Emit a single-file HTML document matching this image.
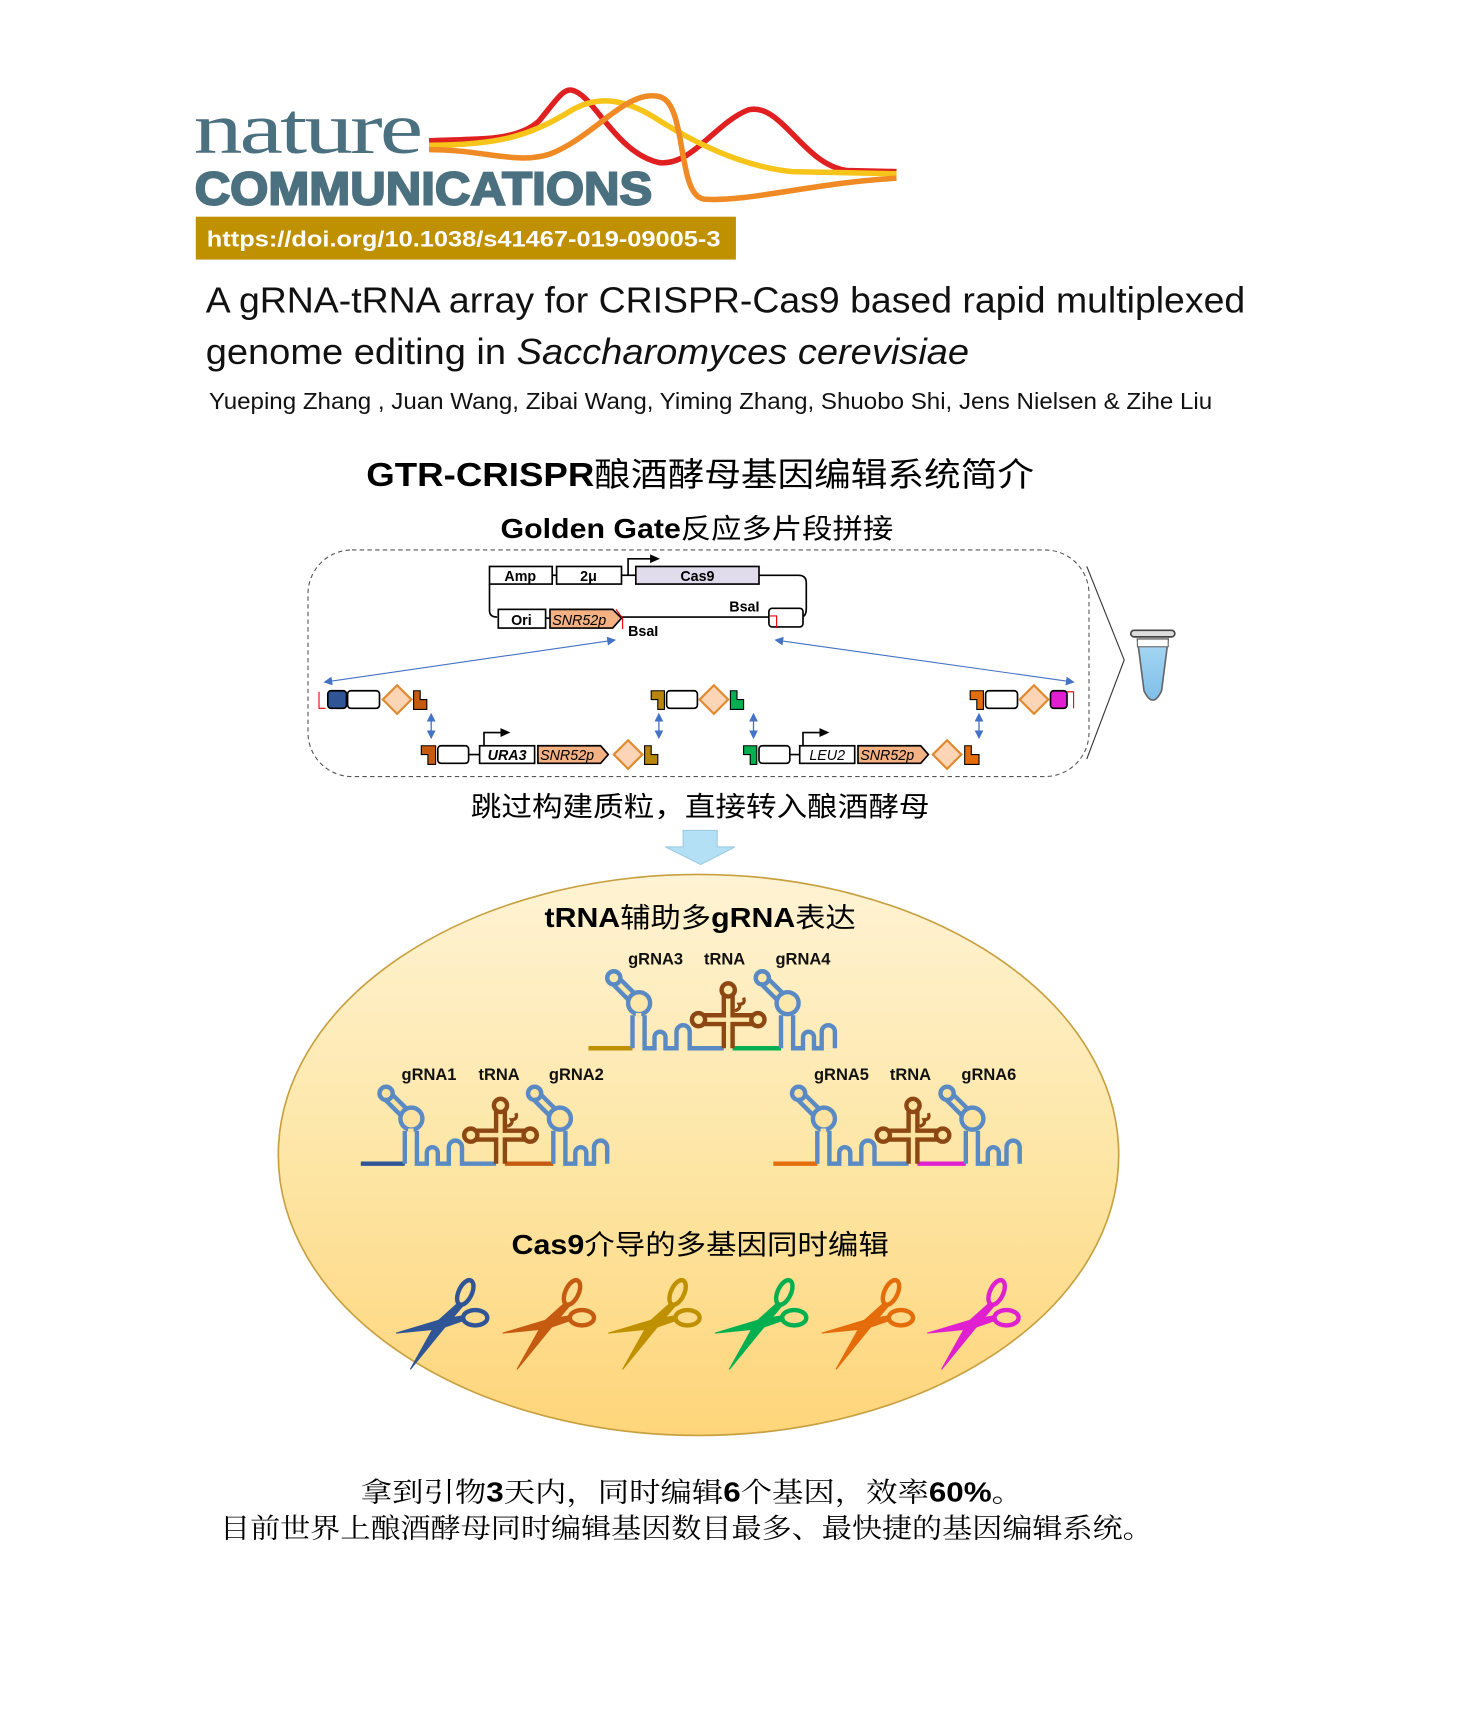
<!DOCTYPE html>
<html><head><meta charset="utf-8"><style>
html,body{margin:0;padding:0;background:#fff;}
svg{display:block;}
.cn{font-family:"Liberation Sans","Noto Sans CJK SC",sans-serif;}
</style></head><body>
<svg width="1463" height="1728" viewBox="0 0 1330 1571" preserveAspectRatio="none" xmlns="http://www.w3.org/2000/svg">
<defs>
<linearGradient id="eg" x1="0" y1="0" x2="0" y2="1">
<stop offset="0" stop-color="#fff3d4"/><stop offset="0.5" stop-color="#fde6a6"/><stop offset="1" stop-color="#fed57a"/>
</linearGradient>
<linearGradient id="tb" x1="0" y1="0" x2="0" y2="1">
<stop offset="0" stop-color="#a8d8f4"/><stop offset="1" stop-color="#7fbfe8"/>
</linearGradient>
<marker id="ah" markerWidth="8" markerHeight="8" refX="6" refY="4" orient="auto" markerUnits="userSpaceOnUse"><path d="M0,0 L8,4 L0,8 z" fill="#4472c4"/></marker>
<marker id="ahs" markerWidth="8" markerHeight="8" refX="6" refY="4" orient="auto-start-reverse" markerUnits="userSpaceOnUse"><path d="M0,0 L8,4 L0,8 z" fill="#4472c4"/></marker>
<marker id="pk" markerWidth="10" markerHeight="10" refX="7" refY="5" orient="auto" markerUnits="userSpaceOnUse"><path d="M0,1 L9,5 L0,9 z" fill="#000"/></marker>

<g id="rna">
 <path d="M40,0 V-30 M51,-30 V0 H60 V-10 A5,5 0 1 1 70,-10 V0 H80 V-15 A6,6 0 1 1 92,-15 V0 H123" fill="none" stroke="#5a8ac4" stroke-width="4"/>
 <line x1="38" y1="-48" x2="26" y2="-60" stroke="#5a8ac4" stroke-width="12" stroke-linecap="round"/>
 <line x1="38" y1="-48" x2="26" y2="-60" stroke="var(--bg)" stroke-width="4"/>
 <circle cx="46" cy="-41" r="10" fill="var(--bg)" stroke="#5a8ac4" stroke-width="4"/>
 <circle cx="23" cy="-64" r="6" fill="var(--bg)" stroke="#5a8ac4" stroke-width="4"/>
 <rect x="43" y="-32" width="5" height="4" fill="var(--bg)"/>
 <path d="M175,0 V-30 M186,-30 V0 H195 V-10 A5,5 0 1 1 205,-10 V0 H212 V-15 A6,6 0 1 1 224,-15 V0" fill="none" stroke="#5a8ac4" stroke-width="4"/>
 <line x1="173" y1="-48" x2="161" y2="-60" stroke="#5a8ac4" stroke-width="12" stroke-linecap="round"/>
 <line x1="173" y1="-48" x2="161" y2="-60" stroke="var(--bg)" stroke-width="4"/>
 <circle cx="181" cy="-41" r="10" fill="var(--bg)" stroke="#5a8ac4" stroke-width="4"/>
 <circle cx="158" cy="-64" r="6" fill="var(--bg)" stroke="#5a8ac4" stroke-width="4"/>
 <path d="M127,0 V-26 M127,-26 H104 M127,-26 H150 M127,-26 V-48" fill="none" stroke="#8c4712" stroke-width="12"/>
 <path d="M127,2 V-26 M127,-26 H106 M127,-26 H148 M127,-26 V-46" fill="none" stroke="var(--bg)" stroke-width="4"/>
 <circle cx="100" cy="-26" r="6" fill="var(--bg)" stroke="#8c4712" stroke-width="4"/>
 <circle cx="154" cy="-26" r="6" fill="var(--bg)" stroke="#8c4712" stroke-width="4"/>
 <circle cx="127" cy="-53" r="6" fill="var(--bg)" stroke="#8c4712" stroke-width="4"/>
 <path d="M133,-34 q6,-2 4,-6 q6,0 4,-6" fill="none" stroke="#8c4712" stroke-width="3"/>
</g>

<g id="sc">
 <path d="M-40,8 L0,-4 L22,-8 L23,-4 L0,4 Z"/>
 <path d="M-27,41 L-3,-2 L17,-20 L21,-17 L4,3 Z"/>
 <ellipse cx="32" cy="-6" rx="11" ry="7" fill="none" stroke-width="4"/>
 <ellipse cx="23" cy="-29" rx="6" ry="12" transform="rotate(25 23 -29)" fill="none" stroke-width="4"/>
</g>
</defs>

<text x="176" y="139" font-family="Liberation Serif,serif" font-size="66" fill="#4b7080" textLength="206" lengthAdjust="spacingAndGlyphs" letter-spacing="-2">nature</text>
<text x="177" y="186" font-family="Liberation Sans,sans-serif" font-weight="bold" font-size="42" fill="#4b7080" stroke="#4b7080" stroke-width="1.8" textLength="416" lengthAdjust="spacingAndGlyphs">COMMUNICATIONS</text>
<path d="M390,128 C440,126 470,128 490,110 C505,92 512,80 520,82 C540,86 560,140 600,148 C630,150 650,112 680,100 C710,92 730,150 770,155 L815,156" fill="none" stroke="#e02020" stroke-width="5"/>
<path d="M390,132 C450,132 480,125 520,100 C545,86 570,90 600,110 C640,135 680,152 720,156 L815,158" fill="none" stroke="#f7c419" stroke-width="5"/>
<path d="M390,136 C440,136 470,150 500,140 C540,125 570,80 600,88 C625,95 615,178 640,181 C680,184 740,166 815,162" fill="none" stroke="#f08a24" stroke-width="5"/>

<rect x="178" y="197" width="491" height="39" fill="#bf9000"/>
<text x="188" y="224" font-family="Liberation Sans,sans-serif" font-weight="bold" font-size="20" fill="#fff" textLength="467" lengthAdjust="spacingAndGlyphs">https://doi.org/10.1038/s41467-019-09005-3</text>

<text x="187" y="284" font-family="Liberation Sans,sans-serif" font-size="33" fill="#111" textLength="945" lengthAdjust="spacingAndGlyphs">A gRNA-tRNA array for CRISPR-Cas9 based rapid multiplexed</text>
<text x="187" y="331" font-family="Liberation Sans,sans-serif" font-size="33" fill="#111" textLength="694" lengthAdjust="spacingAndGlyphs">genome editing in <tspan font-style="italic">Saccharomyces cerevisiae</tspan></text>
<text x="190" y="372" font-family="Liberation Sans,sans-serif" font-size="21" fill="#111" textLength="912" lengthAdjust="spacingAndGlyphs">Yueping Zhang , Juan Wang, Zibai Wang, Yiming Zhang, Shuobo Shi, Jens Nielsen &amp; Zihe Liu</text>

<text class="cn" x="333" y="442" font-size="30" font-weight="bold" fill="#000" textLength="607" lengthAdjust="spacingAndGlyphs">GTR-CRISPR<tspan font-weight="normal">酿酒酵母基因编辑系统简介</tspan></text>
<text class="cn" x="455" y="489" font-size="25" font-weight="bold" fill="#000" textLength="357" lengthAdjust="spacingAndGlyphs">Golden Gate<tspan font-weight="normal">反应多片段拼接</tspan></text>

<rect x="280" y="500" width="710" height="206" rx="40" fill="none" stroke="#555" stroke-width="1" stroke-dasharray="4,3"/>
<path d="M988,515 L1022,600 L988,690" fill="none" stroke="#333" stroke-width="1"/>

<path d="M1034,581 L1062,581 L1056,628 Q1048,645 1040,628 Z" fill="url(#tb)" stroke="#666" stroke-width="1.5"/>
<rect x="1034" y="581" width="28" height="7" fill="#fff" stroke="#666" stroke-width="1"/>
<rect x="1028" y="573" width="40" height="6" rx="3" fill="#ddd" stroke="#444" stroke-width="1.5"/>

<g font-family="Liberation Sans,sans-serif" font-size="13" font-weight="bold" fill="#000">
<path d="M690,523 H726 Q733,523 733,530 V553 Q733,561 728,561" fill="none" stroke="#000" stroke-width="1.5"/>
<path d="M445,531 V555 Q445,561 452,561" fill="none" stroke="#000" stroke-width="1.5"/>
<line x1="563" y1="561" x2="699" y2="561" stroke="#000" stroke-width="1.5"/>
<line x1="502" y1="523" x2="506" y2="523" stroke="#000" stroke-width="1.5"/>
<line x1="565" y1="523" x2="578" y2="523" stroke="#000" stroke-width="1.5"/>
<line x1="496" y1="562" x2="500" y2="562" stroke="#000" stroke-width="1.5"/>
<rect x="445" y="515" width="57" height="16" fill="#fff" stroke="#000" stroke-width="1.5"/>
<text x="473" y="528" text-anchor="middle">Amp</text>
<rect x="506" y="515" width="59" height="16" fill="#fff" stroke="#000" stroke-width="1.5"/>
<text x="535" y="528" text-anchor="middle" font-weight="bold">2μ</text>
<rect x="578" y="515" width="112" height="16" fill="#e0dcec" stroke="#000" stroke-width="1.5"/>
<text x="634" y="528" text-anchor="middle">Cas9</text>
<path d="M571,523 V508 H598" fill="none" stroke="#000" stroke-width="1.5" marker-end="url(#pk)"/>
<rect x="453" y="554" width="43" height="17" fill="#fff" stroke="#000" stroke-width="1.5"/>
<text x="474" y="568" text-anchor="middle">Ori</text>
<path d="M500,554 H557 L565,562 L557,571 H500 Z" fill="#f4b183" stroke="#000" stroke-width="1.5"/>
<text x="502" y="568" font-style="italic" font-weight="normal" font-size="13">SNR52p</text>
<path d="M560,554 L566,562 L566,572" fill="none" stroke="#e00" stroke-width="1"/>
<rect x="699" y="553" width="31" height="17" rx="3" fill="#fff" stroke="#000" stroke-width="1.5"/>
<path d="M700,560 H706 V571" fill="none" stroke="#e00" stroke-width="1"/>
<text x="663" y="556">BsaI</text>
<text x="571" y="578">BsaI</text>
</g>

<line x1="558" y1="582" x2="296" y2="620" stroke="#4472c4" stroke-width="1" marker-start="url(#ahs)" marker-end="url(#ah)"/>
<line x1="706" y1="582" x2="975" y2="620" stroke="#4472c4" stroke-width="1" marker-start="url(#ahs)" marker-end="url(#ah)"/>
<g stroke="#4472c4" stroke-width="1.2">
<line x1="392" y1="650" x2="392" y2="670" marker-start="url(#ahs)" marker-end="url(#ah)"/>
<line x1="599" y1="650" x2="599" y2="670" marker-start="url(#ahs)" marker-end="url(#ah)"/>
<line x1="685" y1="650" x2="685" y2="670" marker-start="url(#ahs)" marker-end="url(#ah)"/>
<line x1="890" y1="650" x2="890" y2="670" marker-start="url(#ahs)" marker-end="url(#ah)"/>
</g>

<g stroke-width="1.5">
<path d="M290,629 V644 H296" fill="none" stroke="#e00" stroke-width="1"/>
<rect x="298" y="628" width="17" height="16" rx="3" fill="#2f5597" stroke="#000"/>
<rect x="316" y="628" width="29" height="16" rx="3" fill="#fff" stroke="#000"/>
<path d="M361,623 L374,636 L361,649 L348,636 Z" fill="#fbd5b5" stroke="#e08a30" stroke-width="2"/>
<path d="M376,628 H382 V636 H388 V645 H376 Z" fill="#c55a11" stroke="#000" stroke-width="1"/>

<path d="M592,628 H604 V645 H598 V636 H592 Z" fill="#b8860b" stroke="#000" stroke-width="1"/>
<rect x="606" y="628" width="28" height="16" rx="3" fill="#fff" stroke="#000"/>
<path d="M649,623 L662,636 L649,649 L636,636 Z" fill="#fbd5b5" stroke="#e08a30" stroke-width="2"/>
<path d="M664,628 H670 V636 H676 V645 H664 Z" fill="#00b050" stroke="#000" stroke-width="1"/>

<path d="M882,628 H894 V645 H888 V636 H882 Z" fill="#e46c0a" stroke="#000" stroke-width="1"/>
<rect x="896" y="628" width="29" height="16" rx="3" fill="#fff" stroke="#000"/>
<path d="M940,623 L953,636 L940,649 L927,636 Z" fill="#fbd5b5" stroke="#e08a30" stroke-width="2"/>
<rect x="955" y="628" width="15" height="16" rx="3" fill="#e020d0" stroke="#000"/>
<path d="M970,629 H976 V644" fill="none" stroke="#e00" stroke-width="1"/>
</g>

<g stroke-width="1.5" font-family="Liberation Sans,sans-serif" font-size="13">
<path d="M383,678 H396 V695 H389 V686 H383 Z" fill="#c55a11" stroke="#000" stroke-width="1"/>
<rect x="398" y="678" width="28" height="16" rx="3" fill="#fff" stroke="#000"/>
<line x1="426" y1="686" x2="436" y2="686" stroke="#000"/>
<rect x="436" y="678" width="50" height="16" fill="#fff" stroke="#000"/>
<text x="461" y="691" text-anchor="middle" font-style="italic" font-weight="bold">URA3</text>
<path d="M440,678 V666 H462" fill="none" stroke="#000" marker-end="url(#pk)"/>
<path d="M489,678 H546 L553,686 L546,694 H489 Z" fill="#f4b183" stroke="#000"/>
<text x="491" y="691" font-style="italic">SNR52p</text>
<path d="M571,673 L584,686 L571,699 L558,686 Z" fill="#fbd5b5" stroke="#e08a30" stroke-width="2"/>
<path d="M586,678 H592 V686 H598 V695 H586 Z" fill="#b8860b" stroke="#000" stroke-width="1"/>

<path d="M676,678 H688 V695 H682 V686 H676 Z" fill="#00b050" stroke="#000" stroke-width="1"/>
<rect x="690" y="678" width="28" height="16" rx="3" fill="#fff" stroke="#000"/>
<line x1="718" y1="686" x2="727" y2="686" stroke="#000"/>
<rect x="727" y="678" width="50" height="16" fill="#fff" stroke="#000"/>
<text x="752" y="691" text-anchor="middle" font-style="italic">LEU2</text>
<path d="M730,678 V666 H752" fill="none" stroke="#000" marker-end="url(#pk)"/>
<path d="M780,678 H837 L844,686 L837,694 H780 Z" fill="#f4b183" stroke="#000"/>
<text x="782" y="691" font-style="italic">SNR52p</text>
<path d="M861,673 L874,686 L861,699 L848,686 Z" fill="#fbd5b5" stroke="#e08a30" stroke-width="2"/>
<path d="M877,678 H883 V686 H890 V695 H877 Z" fill="#e46c0a" stroke="#000" stroke-width="1"/>
</g>

<text class="cn" x="428" y="742" font-size="25" fill="#000" textLength="417" lengthAdjust="spacingAndGlyphs" font-family="Liberation Serif,'Noto Serif CJK SC',serif">跳过构建质粒，直接转入酿酒酵母</text>

<path d="M621,755 H652 V770 H668 L637,786 L605,770 H621 Z" fill="#b4e0f5" stroke="#9ccbe4" stroke-width="1"/>

<ellipse cx="635" cy="1050" rx="382" ry="255" fill="url(#eg)" stroke="#c8a040" stroke-width="1.5"/>

<text class="cn" x="495" y="843" font-size="25" font-weight="bold" fill="#000" textLength="283" lengthAdjust="spacingAndGlyphs">tRNA<tspan font-weight="normal">辅助多</tspan>gRNA<tspan font-weight="normal">表达</tspan></text>

<g font-family="Liberation Sans,sans-serif" font-weight="bold" font-size="15" fill="#111">
<text x="571" y="877">gRNA3</text><text x="640" y="877">tRNA</text><text x="705" y="877">gRNA4</text>
<text x="365" y="982">gRNA1</text><text x="435" y="982">tRNA</text><text x="499" y="982">gRNA2</text>
<text x="740" y="982">gRNA5</text><text x="809" y="982">tRNA</text><text x="874" y="982">gRNA6</text>
</g>

<g transform="translate(535,953)" style="--bg:#fde8ab">
<line x1="0" y1="0" x2="40" y2="0" stroke="#bf9000" stroke-width="4"/>
<line x1="131" y1="0" x2="175" y2="0" stroke="#00b050" stroke-width="4"/>
<use href="#rna"/>
</g>
<g transform="translate(328,1058)" style="--bg:#fde2a0">
<line x1="0" y1="0" x2="40" y2="0" stroke="#2f5597" stroke-width="4"/>
<line x1="131" y1="0" x2="175" y2="0" stroke="#c55a11" stroke-width="4"/>
<use href="#rna"/>
</g>
<g transform="translate(703,1058)" style="--bg:#fde2a0">
<line x1="0" y1="0" x2="40" y2="0" stroke="#e46c0a" stroke-width="4"/>
<line x1="131" y1="0" x2="175" y2="0" stroke="#e020d0" stroke-width="4"/>
<use href="#rna"/>
</g>

<text class="cn" x="465" y="1140" font-size="25" font-weight="bold" fill="#000" textLength="343" lengthAdjust="spacingAndGlyphs">Cas9<tspan font-weight="normal">介导的多基因同时编辑</tspan></text>

<use href="#sc" transform="translate(400,1204)" fill="#2f5597" stroke="#2f5597"/>
<use href="#sc" transform="translate(497,1204)" fill="#c55a11" stroke="#c55a11"/>
<use href="#sc" transform="translate(593,1204)" fill="#bf9000" stroke="#bf9000"/>
<use href="#sc" transform="translate(690,1204)" fill="#00b050" stroke="#00b050"/>
<use href="#sc" transform="translate(787,1204)" fill="#e46c0a" stroke="#e46c0a"/>
<use href="#sc" transform="translate(883,1204)" fill="#e020d0" stroke="#e020d0"/>

<text x="328" y="1365" font-size="25" fill="#000" textLength="602" lengthAdjust="spacingAndGlyphs" font-family="Liberation Serif,'Noto Serif CJK SC',serif">拿到引物<tspan font-weight="bold" font-family="Liberation Sans,sans-serif">3</tspan>天内，同时编辑<tspan font-weight="bold" font-family="Liberation Sans,sans-serif">6</tspan>个基因，效率<tspan font-weight="bold" font-family="Liberation Sans,sans-serif">60%</tspan>。</text>
<text x="200" y="1398" font-size="25" fill="#000" textLength="848" lengthAdjust="spacingAndGlyphs" font-family="Liberation Serif,'Noto Serif CJK SC',serif">目前世界上酿酒酵母同时编辑基因数目最多、最快捷的基因编辑系统。</text>
</svg>
</body></html>
